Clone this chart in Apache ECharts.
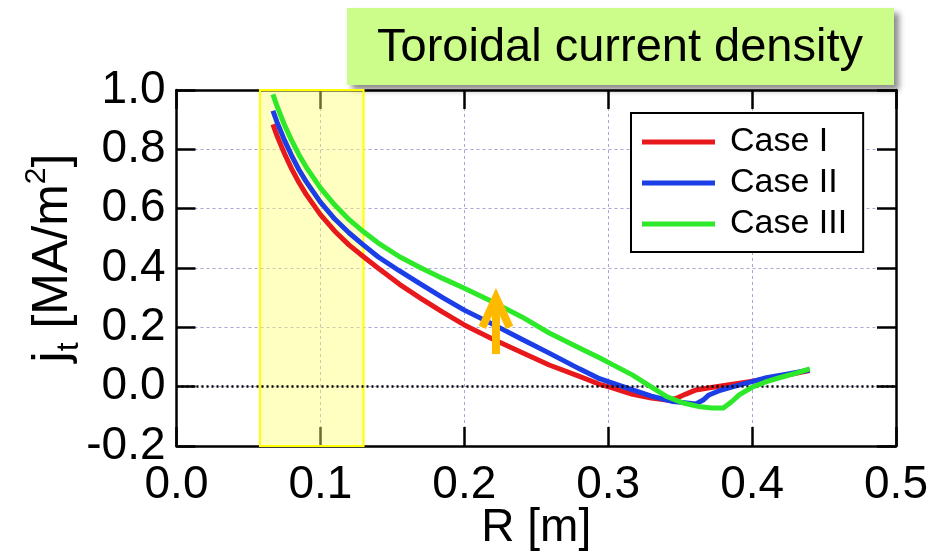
<!DOCTYPE html>
<html>
<head>
<meta charset="utf-8">
<script src="https://cdn.jsdelivr.net/npm/echarts@6/dist/echarts.min.js"></script>
<style>html,body{margin:0;padding:0;background:#fff}#c{width:930px;height:552px}</style>
</head>
<body>
<div id="c"></div>
<script>
// ---- data ----
const titleText = 'Toroidal current density';
const seriesNames = ['Case I', 'Case II', 'Case III'];
const xTicks = [0.0, 0.1, 0.2, 0.3, 0.4, 0.5];
const yTicks = [-0.2, 0.0, 0.2, 0.4, 0.6, 0.8, 1.0];
const caseI = [[0.067,0.884],[0.07,0.844],[0.075,0.786],[0.08,0.734],[0.085,0.689],[0.09,0.649],[0.10,0.580],[0.11,0.524],[0.12,0.477],[0.13,0.438],[0.14,0.40],[0.155,0.345],[0.17,0.297],[0.185,0.251],[0.20,0.208],[0.22,0.16],[0.24,0.115],[0.259,0.073],[0.28,0.035],[0.294,0.008],[0.30,0.0],[0.317,-0.026],[0.33,-0.038],[0.3405,-0.045],[0.347,-0.04],[0.354,-0.025],[0.361,-0.011],[0.375,0.0],[0.398,0.017],[0.42,0.035],[0.44,0.054]];
const caseII = [[0.067,0.930],[0.07,0.890],[0.075,0.831],[0.08,0.779],[0.085,0.732],[0.09,0.692],[0.10,0.622],[0.11,0.565],[0.12,0.518],[0.13,0.477],[0.14,0.438],[0.155,0.39],[0.17,0.345],[0.185,0.30],[0.20,0.258],[0.22,0.21],[0.24,0.16],[0.259,0.113],[0.28,0.06],[0.294,0.027],[0.30,0.017],[0.317,-0.011],[0.33,-0.032],[0.345,-0.05],[0.361,-0.058],[0.366,-0.045],[0.37,-0.028],[0.378,-0.012],[0.387,0.0],[0.40,0.017],[0.41,0.03],[0.425,0.043],[0.44,0.056]];
const caseIII = [[0.067,0.985],[0.07,0.944],[0.075,0.883],[0.08,0.830],[0.085,0.783],[0.09,0.741],[0.10,0.670],[0.11,0.612],[0.12,0.563],[0.13,0.522],[0.14,0.485],[0.155,0.438],[0.17,0.40],[0.185,0.365],[0.20,0.332],[0.22,0.285],[0.24,0.235],[0.259,0.181],[0.28,0.13],[0.295,0.095],[0.30,0.082],[0.317,0.039],[0.329,0.002],[0.341,-0.034],[0.352,-0.055],[0.364,-0.068],[0.372,-0.072],[0.38,-0.072],[0.386,-0.05],[0.391,-0.028],[0.40,-0.002],[0.41,0.017],[0.419,0.03],[0.43,0.045],[0.44,0.06]];
const highlightRange = [0.058, 0.130];
const arrowShaft = [[0.222,0.11],[0.222,0.295]];
const arrowHead = [[0.2125,0.20],[0.222,0.30],[0.2315,0.20]];

// ---- chart ----
const FONT = 'Liberation Sans, Arial, sans-serif';
const colors = ['#e8191c', '#1c3ee6', '#2ee82a'];
const chart = echarts.init(document.getElementById('c'));
const tickStyle = { show: true, inside: true, length: 19, lineStyle: { color: '#000', width: 2.5 } };
const lineAx = { show: true, onZero: false, lineStyle: { color: '#000', width: 2.5 } };
const gridLine = { show: true, lineStyle: { color: '#a6a6d8', type: [3, 3], width: 1 } };
const xMin = xTicks[0], xMax = xTicks[xTicks.length - 1];
const yMin = yTicks[0], yMax = yTicks[yTicks.length - 1];
const curve = (name, data, color, z) => ({
  name, type: 'line', data, showSymbol: false, symbol: 'none', z,
  smooth: false,
  lineStyle: { color, width: 5, join: 'round' }, itemStyle: { color }
});

const s0 = curve(seriesNames[0], caseI, colors[0], 3);
s0.markArea = {
  silent: true, z: 1,
  itemStyle: { color: 'rgba(255,255,110,0.42)', borderColor: '#ffff00', borderWidth: 2 },
  data: [[{ xAxis: highlightRange[0] }, { xAxis: highlightRange[1] }]]
};
s0.markLine = {
  silent: true, symbol: 'none', label: { show: false },
  lineStyle: { color: '#000', type: [2, 3], width: 2.5 },
  data: [{ yAxis: 0 }]
};

chart.setOption({
  animation: false,
  backgroundColor: '#fff',
  grid: { left: 176.5, right: 34, top: 90, bottom: 106, outerBoundsMode: 'none', containLabel: false },
  legend: {
    data: seriesNames, orient: 'vertical', left: 631, top: 113,
    icon: 'rect', itemWidth: 73, itemHeight: 5, itemGap: 7,
    padding: [12, 16, 11, 11], borderColor: '#000', borderWidth: 2, backgroundColor: '#fff',
    textStyle: { fontSize: 34, fontFamily: FONT, color: '#000', padding: [0, 0, 0, 10] }
  },
  xAxis: [{
    type: 'value', min: xMin, max: xMax, interval: 0.1, position: 'bottom',
    axisLine: lineAx, axisTick: tickStyle, splitLine: gridLine,
    axisLabel: { fontSize: 46, fontFamily: FONT, color: '#000', margin: 16, formatter: v => v.toFixed(1) },
    name: 'R [m]', nameLocation: 'middle', nameGap: 59, nameMoveOverlap: false,
    nameTextStyle: { fontSize: 46, fontFamily: FONT, color: '#000' }
  }, {
    type: 'value', min: xMin, max: xMax, interval: 0.1, position: 'top',
    axisLine: lineAx, axisTick: tickStyle, splitLine: { show: false }, axisLabel: { show: false }
  }],
  yAxis: [{
    type: 'value', min: yMin, max: yMax, interval: 0.2, position: 'left',
    axisLine: lineAx, axisTick: tickStyle, splitLine: gridLine,
    axisLabel: { fontSize: 46, fontFamily: FONT, color: '#000', margin: 11, formatter: v => v.toFixed(1) },
    name: '{a|j}{s|t}{a| [MA/m}{p|2}{a|]}', nameLocation: 'middle', nameGap: 91, nameRotate: 90,
    nameMoveOverlap: false,
    nameTextStyle: {
      color: '#000', fontFamily: FONT, padding: [0, 0, 0, 20],
      rich: {
        a: { fontSize: 50, fontFamily: FONT, color: '#000', lineHeight: 64 },
        s: { fontSize: 32, fontFamily: FONT, color: '#000', lineHeight: 32, verticalAlign: 'bottom' },
        p: { fontSize: 30, fontFamily: FONT, color: '#000', lineHeight: 30, verticalAlign: 'top' }
      }
    }
  }, {
    type: 'value', min: yMin, max: yMax, interval: 0.2, position: 'right',
    axisLine: lineAx, axisTick: tickStyle, splitLine: { show: false }, axisLabel: { show: false }
  }],
  series: [
    s0,
    curve(seriesNames[1], caseII, colors[1], 4),
    curve(seriesNames[2], caseIII, colors[2], 5),
    { name: 'arrowShaft', type: 'line', data: arrowShaft, showSymbol: false, symbol: 'none', z: 6, silent: true,
      lineStyle: { color: '#ffba00', width: 8, cap: 'butt' } },
    { name: 'arrowHead', type: 'line', data: arrowHead, showSymbol: false, symbol: 'none', z: 6, silent: true,
      lineStyle: { color: '#ffba00', width: 8, cap: 'butt', join: 'miter' } }
  ],
  graphic: [{
    type: 'group', left: 347, top: 8, z: 100,
    children: [{
      type: 'rect', shape: { x: 0, y: 0, width: 547, height: 77 },
      style: { fill: '#ccfc8a', shadowBlur: 6, shadowOffsetX: 5, shadowOffsetY: 5, shadowColor: 'rgba(0,0,0,0.45)' }
    }, {
      type: 'text', x: 273, y: 40,
      style: { text: titleText, font: '47px ' + FONT, fill: '#000', align: 'center', verticalAlign: 'middle' }
    }]
  }]
});
</script>
</body>
</html>
